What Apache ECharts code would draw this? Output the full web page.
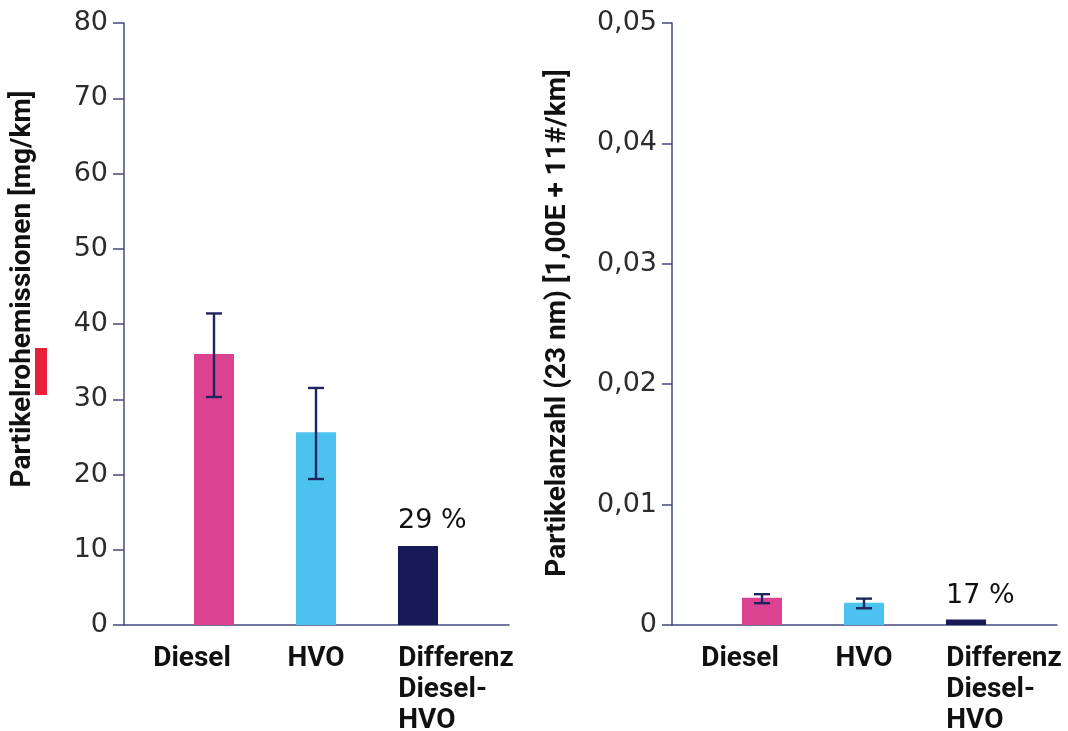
<!DOCTYPE html>
<html>
<head>
<meta charset="utf-8">
<script src="https://cdn.jsdelivr.net/npm/echarts@6/dist/echarts.min.js"></script>
<style>
  html, body { margin: 0; padding: 0; background: #ffffff; }
  #chart { width: 1068px; height: 731px; }
</style>
</head>
<body>
<div id="chart"></div>
<script>
// Categories and measured values
const categories = ['Diesel', 'HVO', 'Differenz Diesel-HVO'];

// Particle mass emissions [mg/km]
const massValues = [36.0, 25.6, 10.5];
const massErrLow = [30.3, 19.4];
const massErrHigh = [41.4, 31.5];
const massDiffLabel = '29 %';
const massTicks = { min: 0, max: 80, interval: 10 };

// Particle number (23 nm) [1,00E + 11#/km]
const countValues = [0.00227, 0.00184, 0.00045];
const countErrLow = [0.00181, 0.00139];
const countErrHigh = [0.00256, 0.00219];
const countDiffLabel = '17 %';
const countTicks = { min: 0, max: 0.05, interval: 0.01 };

const barColors = ['#db4390', '#4cc3ef', '#171a57'];
const axisColor = '#45487f';
const errColor = '#1f2360';

const chart = echarts.init(document.getElementById('chart'));

function frameGrid(left) {
  return { left: left, top: 23, width: 385, height: 602, containLabel: false, outerBoundsMode: 'none' };
}
function barGrid(left) {
  return { left: left + 39, top: 23, width: 306, height: 602, containLabel: false, outerBoundsMode: 'none' };
}

function frameXAxis(gridIndex) {
  return {
    type: 'category', gridIndex: gridIndex, data: [''],
    axisLine: { show: true, lineStyle: { color: axisColor, width: 1.5 } },
    axisTick: { show: false }, axisLabel: { show: false }, splitLine: { show: false }
  };
}

function barXAxis(gridIndex) {
  return {
    type: 'category', gridIndex: gridIndex, data: categories,
    axisLine: { show: false }, axisTick: { show: false }, splitLine: { show: false },
    axisLabel: {
      margin: 18,
      interval: 0,
      color: '#111111',
      fontFamily: 'Roboto',
      fontWeight: 'bold',
      fontSize: 28,
      lineHeight: 31,
      formatter: function (v, i) {
        if (i === 0) return '{a|' + v + '}';
        if (i === 1) return '{b|' + v + '}';
        const parts = ['Differenz', 'Diesel-', 'HVO'];
        return parts.map(function (p) { return '{c|' + p + '}'; }).join('\n');
      },
      rich: {
        a: { fontFamily: 'Roboto', fontWeight: 'bold', fontSize: 28, color: '#111111', padding: [0, 44, 0, 0] },
        b: { fontFamily: 'Roboto', fontWeight: 'bold', fontSize: 28, color: '#111111' },
        c: { fontFamily: 'Roboto', fontWeight: 'bold', fontSize: 28, color: '#111111', lineHeight: 31, align: 'left', padding: [0, 0, 0, 76] }
      }
    }
  };
}

function frameYAxis(gridIndex, ticks, fmt, margin, tickLen) {
  return {
    type: 'value', gridIndex: gridIndex, min: ticks.min, max: ticks.max, interval: ticks.interval,
    axisLine: { show: true, lineStyle: { color: axisColor, width: 1.5 } },
    axisTick: { show: true, inside: false, length: tickLen, lineStyle: { color: axisColor, width: 1.5 } },
    splitLine: { show: false },
    axisLabel: { margin: margin, color: '#2c2c2c', fontFamily: 'DejaVu Sans', fontSize: 27, formatter: fmt }
  };
}

function hiddenYAxis(gridIndex, ticks) {
  return {
    type: 'value', gridIndex: gridIndex, min: ticks.min, max: ticks.max, interval: ticks.interval,
    axisLine: { show: false }, axisTick: { show: false }, axisLabel: { show: false }, splitLine: { show: false }
  };
}

function barSeries(axisIndex, values, diffLabel, dist) {
  return {
    type: 'bar', xAxisIndex: axisIndex, yAxisIndex: axisIndex, barWidth: 40,
    data: values.map(function (v, i) {
      const item = { value: v, itemStyle: { color: barColors[i] } };
      if (i === 2) {
        item.label = {
          show: true, position: 'top', align: 'left', offset: [-20, 0], distance: dist,
          fontFamily: 'DejaVu Sans', fontSize: 27, color: '#111111',
          formatter: diffLabel
        };
      }
      return item;
    }),
    silent: true, animation: false
  };
}

function errorSeries(axisIndex, low, high) {
  return {
    type: 'custom', xAxisIndex: axisIndex, yAxisIndex: axisIndex,
    data: low.map(function (l, i) { return [i, l, high[i]]; }),
    renderItem: function (params, api) {
      const x = api.value(0);
      const lo = api.coord([x, api.value(1)]);
      const hi = api.coord([x, api.value(2)]);
      const half = 8;
      const style = { stroke: errColor, lineWidth: 2.4 };
      return {
        type: 'group',
        children: [
          { type: 'line', shape: { x1: hi[0], y1: hi[1], x2: lo[0], y2: lo[1] }, style: style },
          { type: 'line', shape: { x1: hi[0] - half, y1: hi[1], x2: hi[0] + half, y2: hi[1] }, style: style },
          { type: 'line', shape: { x1: lo[0] - half, y1: lo[1], x2: lo[0] + half, y2: lo[1] }, style: style }
        ]
      };
    },
    silent: true, animation: false, z: 5
  };
}

const massFmt = function (v) { return String(v); };
const countFmt = function (v) { return v === 0 ? '0' : v.toFixed(2).replace('.', ','); };

chart.setOption({
  animation: false,
  grid: [frameGrid(124), barGrid(124), frameGrid(672), barGrid(672)],
  xAxis: [frameXAxis(0), barXAxis(1), frameXAxis(2), barXAxis(3)],
  yAxis: [
    frameYAxis(0, massTicks, massFmt, 16, 11),
    hiddenYAxis(1, massTicks),
    frameYAxis(2, countTicks, countFmt, 15, 10),
    hiddenYAxis(3, countTicks)
  ],
  series: [
    barSeries(1, massValues, massDiffLabel, 12),
    errorSeries(1, massErrLow, massErrHigh),
    barSeries(3, countValues, countDiffLabel, 10),
    errorSeries(3, countErrLow, countErrHigh)
  ],
  graphic: [
    {
      type: 'text', x: 23, y: 289, rotation: Math.PI / 2,
      style: {
        text: 'Partikelrohemissionen [mg/km]', fontFamily: 'Roboto', fontWeight: 'bold', fontSize: 28,
        fill: '#111111', align: 'center', verticalAlign: 'middle'
      }
    },
    {
      type: 'rect', shape: { x: 35, y: 348, width: 12, height: 47 },
      style: { fill: '#e5213d' }, z: 10
    },
    {
      type: 'text', x: 558, y: 323, rotation: Math.PI / 2,
      style: {
        text: 'Partikelanzahl (23 nm) [1,00E + 11#/km]', fontFamily: 'Roboto', fontWeight: 'bold', fontSize: 28,
        fill: '#111111', align: 'center', verticalAlign: 'middle'
      }
    }
  ]
});
</script>
</body>
</html>
